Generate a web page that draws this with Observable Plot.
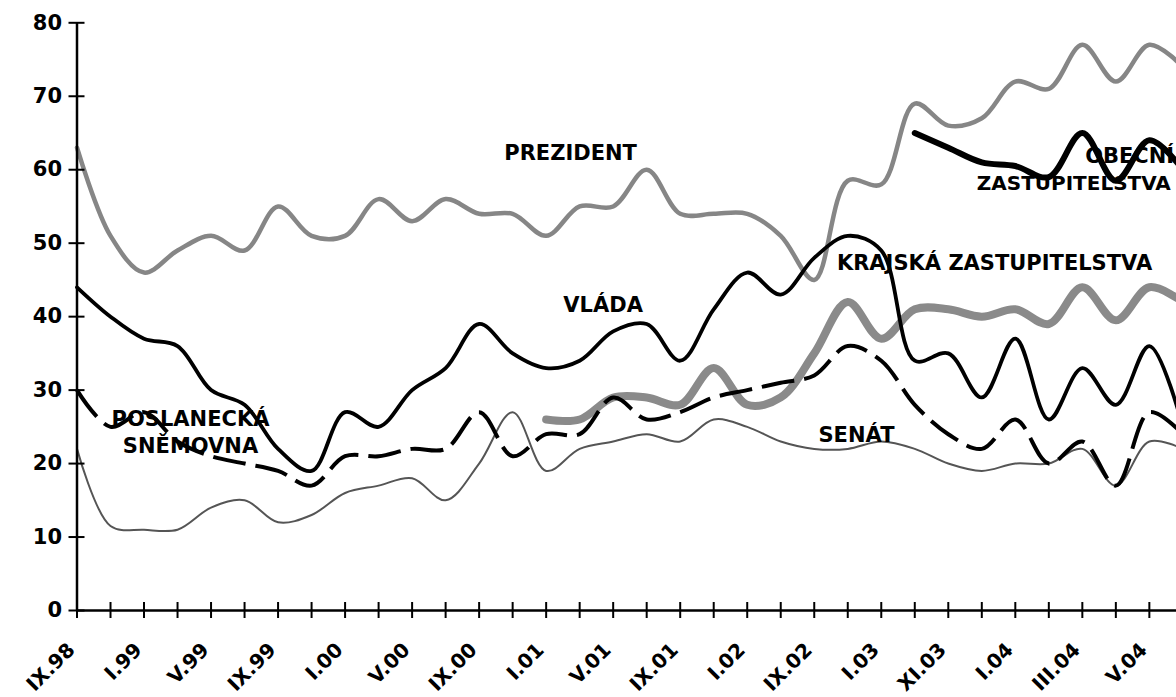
<!DOCTYPE html>
<html>
<head>
<meta charset="utf-8">
<script src="https://cdn.jsdelivr.net/npm/d3@7"></script>
<script src="https://cdn.jsdelivr.net/npm/@observablehq/plot@0.6"></script>
<style>
  html, body { margin: 0; padding: 0; background: #fff; overflow: hidden; }
  #chart svg { display: block; overflow: hidden; }
</style>
</head>
<body>
<div id="chart"></div>
<script>
// Category tick labels (every second category is labelled)
const tickLabels = ["IX.98","I.99","V.99","IX.99","I.00","V.00","IX.00","I.01","V.01","IX.01","I.02","IX.02","I.03","XI.03","I.04","III.04","V.04"];

// Series values, one per category (34 categories, the last one cropped at the right edge)
const prezident  = [63,51,46,49,51,49,55,51,51,56,53,56,54,54,51,55,55,60,54,54,54,51,45,58.5,58,69,66,67,72,71,77,72,77,74];
const vlada      = [44,40,37,36,30,28,22,19,27,25,30,33,39,35,33,34,38,39,34,41,46,43,48,51,49,34,35,29,37,26,33,28,36,25];
const poslanecka = [30,25,27,23,21,20,19,17,21,21,22,22,27,21,24,24,29,26,27,29,30,31,32,36,34,28,24,22,26,20,23,17,27,24];
const senat      = [22,11.5,11,11,14,15,12,13,16,17,18,15,20,27,19,22,23,24,23,26,25,23,22,22,23,22,20,19,20,20,22,17,23,22];
const krajska    = [null,null,null,null,null,null,null,null,null,null,null,null,null,null,26,26,29,29,28,33,28,29,35,42,37,41,41,40,41,39,44,39.5,44,42];
const obecni     = [null,null,null,null,null,null,null,null,null,null,null,null,null,null,null,null,null,null,null,null,null,null,null,null,null,65,63,61,60.5,59,65,58.5,64,60];

const yTicks = [0,10,20,30,40,50,60,70,80];
const xTickIdx = d3.range(0, 33);
const xLabelIdx = d3.range(0, 33, 2);

const X = (d, i) => i;
const Y = d => (d == null ? NaN : d);

const chart = Plot.plot({
  width: 1176,
  height: 697,
  marginLeft: 76.5,
  marginRight: 0,
  marginTop: 22.3,
  marginBottom: 87,
  style: { fontFamily: "'DejaVu Sans', Verdana, sans-serif", background: "white", overflow: "hidden", color: "black" },
  x: { type: "linear", domain: [0, 32.81], label: null },
  y: { domain: [0, 80], label: null },
  marks: [
    // series lines
    Plot.line(krajska,    { x: X, y: Y, stroke: "#8a8a8a", strokeWidth: 8,   curve: "catmull-rom", strokeLinejoin: "round" }),
    Plot.line(prezident,  { x: X, y: Y, stroke: "#868686", strokeWidth: 4.5, curve: "catmull-rom", strokeLinejoin: "round" }),
    Plot.line(senat,      { x: X, y: Y, stroke: "#555555", strokeWidth: 2,   curve: "catmull-rom", strokeLinejoin: "round" }),
    Plot.line(poslanecka, { x: X, y: Y, stroke: "black",   strokeWidth: 4,   curve: "catmull-rom", strokeDasharray: "33,10", strokeLinecap: "butt" }),
    Plot.line(vlada,      { x: X, y: Y, stroke: "black",   strokeWidth: 3.8, curve: "catmull-rom", strokeLinejoin: "round" }),
    Plot.line(obecni,     { x: X, y: Y, stroke: "black",   strokeWidth: 6,   curve: "catmull-rom", strokeLinejoin: "round" }),

    // axis lines
    Plot.ruleY([0], { stroke: "black", strokeWidth: 2.5 }),
    Plot.ruleX([0], { stroke: "black", strokeWidth: 2.5 }),

    // crossing tick marks
    Plot.axisY(yTicks, { anchor: "left", tickSize: 16, dx: 8, fill: "none", stroke: "black", strokeWidth: 2, label: null }),
    Plot.axisX(xTickIdx, { anchor: "bottom", tickSize: 16, dy: -8, fill: "none", stroke: "black", strokeWidth: 2, label: null }),

    // y tick labels
    Plot.axisY(yTicks, { anchor: "left", tickSize: 0, tickPadding: 15, fontSize: 21, fontWeight: "bold", fill: "black", label: null }),

    // x tick labels, rotated
    Plot.text(xLabelIdx, {
      x: d => d, frameAnchor: "bottom",
      text: d => tickLabels[d / 2],
      rotate: -45, textAnchor: "end", lineAnchor: "top",
      dx: -11, dy: 30.5,
      fontSize: 20, fontWeight: "bold", fill: "black"
    }),

    // series labels
    Plot.text(["PREZIDENT"], { x: 14.73, y: 62.28, fontSize: 21, fontWeight: "bold", fill: "black" }),
    Plot.text(["VLÁDA"], { x: 15.70, y: 41.59, fontSize: 21, fontWeight: "bold", fill: "black" }),
    Plot.text(["KRAJSKÁ ZASTUPITELSTVA"], { x: 27.38, y: 47.30, fontSize: 21, fontWeight: "bold", fill: "black" }),
    Plot.text(["SENÁT"], { x: 23.26, y: 23.89, fontSize: 21, fontWeight: "bold", fill: "black" }),
    Plot.text(["POSLANECKÁ\nSNĚMOVNA"], { x: 3.387, y: 24.46, fontSize: 21, fontWeight: "bold", lineHeight: 1.3, fill: "black" }),
    Plot.text(["OBECNÍ"], { x: 32.74, y: 61.86, fontSize: 21, fontWeight: "bold", textAnchor: "end", fill: "black" }),
    Plot.text(["ZASTUPITELSTVA"], { x: 32.64, y: 58.18, fontSize: 20, fontWeight: "bold", textAnchor: "end", fill: "black" })
  ]
});

document.getElementById("chart").appendChild(chart);
</script>
</body>
</html>
